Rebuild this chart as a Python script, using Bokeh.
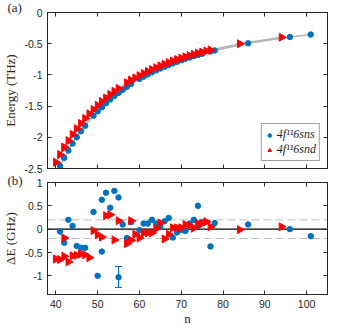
import numpy as np
from bokeh.plotting import figure
from bokeh.layouts import column
from bokeh.models import (LinearAxis, FixedTicker, Span, Legend, LegendItem,
                          Whisker, TeeHead, ColumnDataSource, Range1d, CustomJSTickFormatter)
from bokeh.embed import file_html
from bokeh.resources import INLINE

# ---------------- data ----------------
# 4f^11 6s ns series
n_s = [41, 42, 43, 44, 45, 46, 47, 49, 50, 51, 51, 52, 53, 54, 55, 55, 56, 57, 58,
       60, 61, 62, 63, 64, 65, 66, 67, 68, 69, 70, 71, 72, 73, 74, 74, 75, 77, 78,
       86, 96, 101]
E_s = [-2.460, -2.331, -2.212, -2.101, -1.999, -1.904, -1.815, -1.656, -1.584, -1.517,
       -1.517, -1.454, -1.395, -1.339, -1.286, -1.286, -1.237, -1.190, -1.146,
       -1.065, -1.028, -0.993, -0.959, -0.927, -0.897, -0.868, -0.840, -0.814, -0.789,
       -0.765, -0.742, -0.721, -0.700, -0.680, -0.680, -0.661, -0.625, -0.608,
       -0.494, -0.392, -0.353]
dE_s = [-0.05, -0.29, 0.20, 0.07, -0.36, -0.40, -0.40, 0.37, -1.00, 0.63, -0.48, 0.78,
        0.46, 0.82, 0.68, -1.03, 0.10, -0.19, 0.15, -0.02, 0.12, 0.12, 0.20, 0.12,
        0.05, 0.17, 0.24, -0.18, -0.07, -0.02, -0.04, 0.12, 0.20, 0.50, 0.07, 0.15,
        -0.37, 0.13, 0.10, 0.00, -0.15]

# 4f^11 6s nd series
n_d = [40, 41, 42, 42, 43, 44, 45, 46, 47, 48, 49, 50, 51, 52, 53, 54, 55, 57, 58, 58,
       59, 60, 61, 62, 63, 64, 65, 66, 67, 68, 69, 70, 71, 72, 73, 74, 75, 76, 77,
       84, 94]
E_d = [-2.400, -2.276, -2.161, -2.161, -2.054, -1.955, -1.863, -1.778, -1.698, -1.623,
       -1.553, -1.488, -1.427, -1.369, -1.315, -1.264, -1.216, -1.127, -1.087, -1.087,
       -1.048, -1.012, -0.977, -0.944, -0.913, -0.884, -0.855, -0.828, -0.803, -0.778,
       -0.755, -0.732, -0.711, -0.691, -0.671, -0.652, -0.634, -0.617, -0.600,
       -0.501, -0.397]
dE_d = [-0.64, -0.65, -0.19, -0.58, -0.70, -0.57, -0.56, -0.53, -0.55, -0.61, -0.03,
        -0.12, -0.17, 0.29, 0.31, -0.23, 0.18, -0.31, 0.18, -0.24, -0.11, -0.19, -0.08,
        -0.08, -0.08, 0.01, 0.13, -0.21, -0.11, 0.03, 0.03, 0.03, 0.10, 0.08, 0.02,
        0.12, 0.12, 0.16, 0.05, -0.01, 0.05]

# error bar
err_n = [55]
err_lo = [-1.25]
err_hi = [-0.80]

x_ticks = [40, 50, 60, 70, 80, 90, 100]
y_ticks_top = [-2.5, -2, -1.5, -1, -0.5, 0]
y_ticks_bot = [-1, -0.5, 0, 0.5, 1]
band = [0.2, -0.2]

label_s = "4f\u00b9\u00b96sns"
label_d = "4f\u00b9\u00b96snd"

# ---------------- styling ----------------
BLUE = "#0072BD"
RED = "#FF0000"
AX = "#262626"
SANS = "Liberation Sans"
SERIF = "Liberation Serif"
W = 339


def blank():
    return CustomJSTickFormatter(code="return '';")


def make_fig(h, yr, yt, btop, bbot, ylabel, show_x, tag, tag_standoff):
    p = figure(width=W, height=h, x_range=Range1d(38, 105), y_range=Range1d(*yr),
               output_backend="svg", toolbar_location=None,
               min_border_left=43, min_border_right=12,
               min_border_top=btop, min_border_bottom=bbot)
    p.grid.visible = False
    p.outline_line_color = AX
    p.background_fill_color = "white"
    p.border_fill_color = "white"
    p.title.text = tag
    p.title.align = "left"
    p.title.offset = -40
    p.title.standoff = tag_standoff
    p.title.text_font = SERIF
    p.title.text_font_style = "normal"
    p.title.text_font_size = "13px"
    p.title.text_color = AX
    left = p.yaxis[0]
    bottom = p.xaxis[0]
    left.ticker = FixedTicker(ticks=yt)
    left.formatter = CustomJSTickFormatter(code="return String(tick);")
    left.axis_label = ylabel
    left.axis_label_text_font = SERIF
    left.axis_label_text_font_style = "normal"
    left.axis_label_text_font_size = "13px"
    left.axis_label_text_color = AX
    left.axis_label_standoff = 3
    left.major_label_standoff = 5
    bottom.ticker = FixedTicker(ticks=x_ticks)
    if show_x:
        bottom.formatter = CustomJSTickFormatter(code="return String(tick);")
        bottom.major_label_standoff = 5
        bottom.axis_label = "n"
        bottom.axis_label_standoff = 0
        bottom.axis_label_text_font = SERIF
        bottom.axis_label_text_font_style = "normal"
        bottom.axis_label_text_font_size = "13px"
        bottom.axis_label_text_color = AX
    else:
        bottom.formatter = blank()
        bottom.major_label_standoff = 0
    right = LinearAxis(ticker=FixedTicker(ticks=yt), formatter=blank(), major_label_standoff=0)
    above = LinearAxis(ticker=FixedTicker(ticks=x_ticks), formatter=blank(), major_label_standoff=0)
    p.add_layout(right, "right")
    p.add_layout(above, "above")
    for ax in [left, bottom, right, above]:
        ax.major_tick_in = 4
        ax.major_tick_out = 0
        ax.minor_tick_in = 0
        ax.minor_tick_out = 0
        ax.axis_line_color = AX
        ax.major_tick_line_color = AX
        ax.major_label_text_font = SANS
        ax.major_label_text_font_size = "10.5px"
        ax.major_label_text_color = AX
    return p


# ---------------- top panel ----------------
top = make_fig(174, (-2.5, 0), y_ticks_top, 12, 6, "Energy (THz)", False, "(a)", -5)
top.line(n_s, E_s, line_color="#B4B4B4", line_width=1.5)
top.line(n_d, E_d, line_color="#B4B4B4", line_width=1.5)
rs = top.scatter(n_s, E_s, marker="circle", size=5.5, fill_color=BLUE, line_color=BLUE)
rd = top.scatter(n_d, E_d, marker="triangle", size=8, angle=-np.pi / 2,
                 fill_color=RED, line_color=RED)
leg = Legend(items=[LegendItem(label=label_s, renderers=[rs]),
                    LegendItem(label=label_d, renderers=[rd])],
             location="bottom_right")
leg.margin = 7
leg.padding = 3
leg.spacing = 0
leg.label_height = 14
leg.glyph_height = 14
leg.glyph_width = 9
leg.label_standoff = 3
leg.label_text_font = SERIF
leg.label_text_font_style = "italic"
leg.label_text_font_size = "12px"
leg.label_text_color = AX
leg.border_line_color = "#404040"
leg.border_line_width = 1
leg.background_fill_color = "white"
leg.background_fill_alpha = 1
top.add_layout(leg)

# ---------------- bottom panel ----------------
bot = make_fig(154, (-1.4, 1), y_ticks_bot, 8, 30, "\u0394E (GHz)", True, "(b)", -11)
for b in band:
    bot.add_layout(Span(location=b, dimension="width", line_color="#BDBDBD",
                        line_dash="8 4", line_width=1, level="underlay"))
bot.add_layout(Span(location=0, dimension="width", line_color="black",
                    line_width=1.3, level="underlay"))
esrc = ColumnDataSource(dict(n=err_n, lo=err_lo, hi=err_hi))
bot.add_layout(Whisker(source=esrc, base="n", lower="lo", upper="hi",
                       line_color=BLUE, line_width=1.2, level="glyph",
                       upper_head=TeeHead(size=7, line_color=BLUE, line_width=1.2),
                       lower_head=TeeHead(size=7, line_color=BLUE, line_width=1.2)))
bot.scatter(n_s, dE_s, marker="circle", size=5.5, fill_color=BLUE, line_color=BLUE)
bot.scatter(n_d, dE_d, marker="triangle", size=8, angle=-np.pi / 2,
            fill_color=RED, line_color=RED)

layout = column(top, bot, spacing=0)
open("out.html", "w").write(file_html(layout, INLINE))
